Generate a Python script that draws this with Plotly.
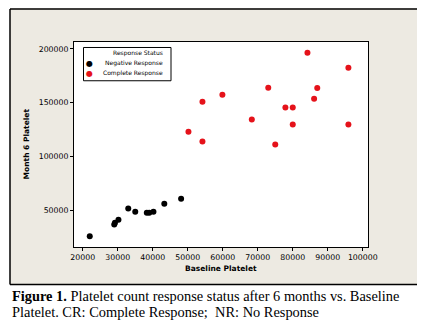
import plotly.graph_objects as go

# Data
neg_baseline = [22000, 29000, 29200, 30200, 33000, 35000, 38300, 39000, 40200, 43300, 48100]
neg_month6 = [26000, 37000, 38500, 41400, 51800, 48800, 47900, 47900, 48800, 56200, 60800]

cr_baseline = [84200, 95900, 73000, 87000, 59900, 54200, 86100, 77900, 80000, 50200, 54200, 68300, 75000, 80000, 95900]
cr_month6 = [196300, 182400, 163900, 163500, 157400, 150900, 153700, 145400, 145400, 123100, 113900, 134300, 111100, 129600, 129600]

x_ticks = [20000, 30000, 40000, 50000, 60000, 70000, 80000, 90000, 100000]
y_ticks = [50000, 100000, 150000, 200000]

NEG_COLOR = "black"
CR_COLOR = "#E5121A"

W, H = 426, 323
L, R, T, B = 74, 368, 41.5, 246.7
pw, ph = R - L, B - T

def px(x):
    return (x - L) / pw

def py(y):
    return (B - y) / ph

fig = go.Figure()
fig.add_trace(go.Scatter(x=neg_baseline, y=neg_month6, mode="markers", name="Negative Response",
                         marker=dict(color=NEG_COLOR, size=6), showlegend=False))
fig.add_trace(go.Scatter(x=cr_baseline, y=cr_month6, mode="markers", name="Complete Response",
                         marker=dict(color=CR_COLOR, size=6), showlegend=False))

tickfont = dict(family="DejaVu Sans", size=7.8, color="black")
fig.update_xaxes(range=[17500, 101500], tickvals=x_ticks, ticktext=[str(v) for v in x_ticks],
                 ticks="outside", ticklen=3,
                 tickcolor="black", showline=True, linecolor="black", linewidth=1, mirror=True,
                 showgrid=False, zeroline=False, tickfont=tickfont)
fig.update_yaxes(range=[16000, 206300], tickvals=y_ticks, ticktext=[str(v) for v in y_ticks],
                 ticks="outside", ticklen=3,
                 tickcolor="black", showline=True, linecolor="black", linewidth=1, mirror=True,
                 showgrid=False, zeroline=False, tickfont=tickfont)

shapes = [
    dict(type="rect", xref="paper", yref="paper", x0=px(10), x1=px(417), y0=py(284.3), y1=py(8),
         fillcolor="#EDEAE2", line=dict(width=0), layer="below"),
    dict(type="rect", xref="paper", yref="paper", x0=0, x1=1, y0=0, y1=1,
         fillcolor="white", line=dict(width=0), layer="below"),
    dict(type="line", xref="paper", yref="paper", x0=px(10), x1=px(417), y0=py(8.5), y1=py(8.5),
         line=dict(color="black", width=1.5)),
    dict(type="line", xref="paper", yref="paper", x0=px(10), x1=px(10), y0=py(8.5), y1=py(284.3),
         line=dict(color="black", width=1.5)),
    dict(type="line", xref="paper", yref="paper", x0=px(10), x1=px(417), y0=py(284.3), y1=py(284.3),
         line=dict(color="black", width=1.5)),
    # legend box
    dict(type="rect", xref="paper", yref="paper", x0=px(83.5), x1=px(171), y0=py(80.3), y1=py(47),
         fillcolor="white", line=dict(color="black", width=1)),
]

legfont = dict(family="DejaVu Sans", size=6, color="black")
annotations = [
    dict(text="<b>Baseline Platelet</b>", xref="paper", yref="paper", x=px(221), y=py(268),
         xanchor="center", yanchor="middle", showarrow=False,
         font=dict(family="DejaVu Sans", size=7.5, color="black")),
    dict(text="<b>Month 6 Platelet</b>", xref="paper", yref="paper", x=px(26), y=py(144),
         xanchor="center", yanchor="middle", showarrow=False, textangle=-90,
         font=dict(family="DejaVu Sans", size=7.5, color="black")),
    dict(text="<b>Figure 1.</b> Platelet count response status after 6 months vs. Baseline",
         xref="paper", yref="paper", x=px(10), y=py(296), xanchor="left", yanchor="middle",
         showarrow=False, font=dict(family="Liberation Serif", size=14.4, color="black")),
    dict(text="Platelet. CR: Complete Response;  NR: No Response",
         xref="paper", yref="paper", x=px(10), y=py(311.5), xanchor="left", yanchor="middle",
         showarrow=False, font=dict(family="Liberation Serif", size=14.4, color="black")),
    # legend contents
    dict(text="Response Status", xref="paper", yref="paper", x=px(165), y=py(52.5),
         xanchor="right", yanchor="middle", showarrow=False, font=legfont),
    dict(text="Negative Response", xref="paper", yref="paper", x=px(165), y=py(62.5),
         xanchor="right", yanchor="middle", showarrow=False, font=legfont),
    dict(text="Complete Response", xref="paper", yref="paper", x=px(165), y=py(72.5),
         xanchor="right", yanchor="middle", showarrow=False, font=legfont),
    dict(text="●", xref="paper", yref="paper", x=px(89.3), y=py(63),
         xanchor="center", yanchor="middle", showarrow=False,
         font=dict(family="DejaVu Sans", size=8, color=NEG_COLOR)),
    dict(text="●", xref="paper", yref="paper", x=px(89.3), y=py(72.7),
         xanchor="center", yanchor="middle", showarrow=False,
         font=dict(family="DejaVu Sans", size=8, color=CR_COLOR)),
]

fig.update_layout(
    width=W, height=H,
    margin=dict(l=L, r=W - R, t=T, b=H - B, pad=0),
    paper_bgcolor="white", plot_bgcolor="white",
    shapes=shapes, annotations=annotations,
    showlegend=False,
)

fig.write_html("out.html")
